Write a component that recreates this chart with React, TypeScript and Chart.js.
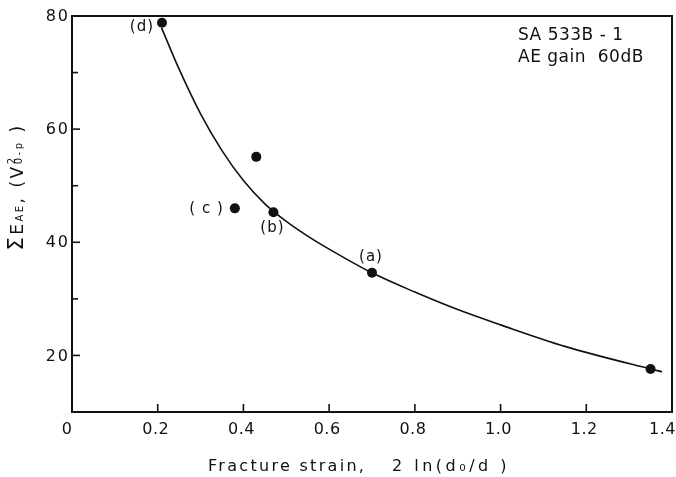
import React, { useEffect, useRef } from 'react';
import { Chart, registerables } from 'chart.js';

Chart.register(...registerables);

// ---- data ----
const pointX = [0.21, 0.43, 0.38, 0.47, 0.7, 1.35];
const pointY = [78.8, 55.1, 46.0, 45.3, 34.6, 17.6];
const pointLabels = ['(d)', '', '( c )', '(b)', '(a)', ''];

const curveX = [0.209, 0.25, 0.3, 0.35, 0.4, 0.45, 0.5, 0.55, 0.6, 0.7, 0.8, 0.9, 1.0, 1.15, 1.35, 1.377];
const curveY = [77.9, 70.6, 62.7, 56.2, 50.9, 46.8, 43.7, 41.1, 38.8, 34.6, 31.2, 28.1, 25.4, 21.6, 17.6, 17.1];

const xTickValues = [0, 0.2, 0.4, 0.6, 0.8, 1.0, 1.2, 1.4];
const xTickLabels = ['0', '0.2', '0.4', '0.6', '0.8', '1.0', '1.2', '1.4'];
const yTickValues = [20, 40, 60, 80];
const yTickLabels = ['20', '40', '60', '80'];
const yMinorTicks = [30, 50, 70];
const xRange = [0, 1.4];
const yRange = [10, 80];

const annotationLines = ['SA 533B - 1', 'AE gain  60dB'];
const xTitleParts = ['Fracture strain,', '2 ln(d\u2080/d )'];

const INK = '#111';
const FONT = '"DejaVu Sans", sans-serif';

const decorPlugin = {
  id: 'decor',
  afterDraw(chart: any) {
    const ctx: CanvasRenderingContext2D = chart.ctx;
    const W = chart.width;
    const { left, right, top, bottom } = chart.chartArea;
    const xs = chart.scales.x;
    const ys = chart.scales.y;
    ctx.save();
    ctx.strokeStyle = INK;
    ctx.fillStyle = INK;

    // frame
    ctx.lineWidth = 2;
    ctx.strokeRect(left, top, right - left, bottom - top);

    // inward tick marks
    ctx.lineWidth = 1.6;
    const seg = (x1: number, y1: number, x2: number, y2: number) => {
      ctx.beginPath();
      ctx.moveTo(x1, y1);
      ctx.lineTo(x2, y2);
      ctx.stroke();
    };
    xTickValues.forEach((v) => {
      if (v <= xRange[0] || v >= xRange[1]) return;
      const px = xs.getPixelForValue(v);
      seg(px, bottom, px, bottom - 8);
    });
    yTickValues.forEach((v) => {
      if (v <= yRange[0] || v >= yRange[1]) return;
      const py = ys.getPixelForValue(v);
      seg(left, py, left + 8, py);
    });
    yMinorTicks.forEach((v) => {
      const py = ys.getPixelForValue(v);
      seg(left, py, left + 6, py);
    });

    // tick labels
    ctx.font = `16px ${FONT}`;
    ctx.textBaseline = 'middle';
    (ctx as any).letterSpacing = '0.5px';
    xTickValues.forEach((v, i) => {
      const lab = xTickLabels[i];
      const w = ctx.measureText(lab).width;
      let cx = xs.getPixelForValue(v) - 2;
      if (i === 0) cx -= 3;
      cx = Math.min(cx, W - w / 2);
      ctx.textAlign = 'left';
      ctx.fillText(lab, cx - w / 2, bottom + 18);
    });
    (ctx as any).letterSpacing = '2px';
    yTickValues.forEach((v, i) => {
      const lab = yTickLabels[i];
      const w = ctx.measureText(lab).width - 2;
      ctx.textAlign = 'left';
      ctx.fillText(lab, left - 4 - w, ys.getPixelForValue(v) + 1);
    });

    // point labels
    (ctx as any).letterSpacing = '1px';
    ctx.font = `15px ${FONT}`;
    ctx.textBaseline = 'middle';
    pointLabels.forEach((lab, i) => {
      if (!lab) return;
      const px = xs.getPixelForValue(pointX[i]);
      const py = ys.getPixelForValue(pointY[i]);
      if (i === 0) {
        ctx.textAlign = 'right';
        ctx.fillText(lab, px - 8, py + 4);
      } else if (i === 2) {
        ctx.textAlign = 'right';
        ctx.fillText(lab, px - 11, py + 1);
      } else if (i === 3) {
        ctx.textAlign = 'center';
        ctx.fillText(lab, px - 1, py + 16);
      } else if (i === 4) {
        ctx.textAlign = 'center';
        ctx.fillText(lab, px - 1, py - 16);
      }
    });

    // annotation box text
    ctx.textAlign = 'left';
    ctx.textBaseline = 'alphabetic';
    (ctx as any).letterSpacing = '0.5px';
    ctx.font = `17px ${FONT}`;
    annotationLines.forEach((t, i) => {
      ctx.fillText(t, right - 154, top + 24 + i * 22);
    });

    // x title
    ctx.font = `16px ${FONT}`;
    ctx.textAlign = 'left';
    (ctx as any).letterSpacing = '2.3px';
    ctx.fillText(xTitleParts[0], left + 136, bottom + 59);
    (ctx as any).letterSpacing = '3.5px';
    ctx.fillText(xTitleParts[1], left + 320, bottom + 59);

    // y title (rotated, with sub/superscripts)
    type Piece = { t: string; size: number; v: number; stackSub?: string };
    const pieces: Piece[] = [
      { t: '\u03A3', size: 21, v: 0 },
      { t: 'E', size: 17, v: 0 },
      { t: 'AE', size: 10, v: 0 },
      { t: ', (', size: 17, v: 0 },
      { t: 'V', size: 17, v: 0 },
      { t: '2', size: 10, v: -8, stackSub: '0-p' },
      { t: ' )', size: 17, v: 0 },
    ];
    (ctx as any).letterSpacing = '2.5px';
    const widthOf = (p: Piece) => {
      ctx.font = `${p.size}px ${FONT}`;
      let w = ctx.measureText(p.t).width;
      if (p.stackSub) w = Math.max(w, ctx.measureText(p.stackSub).width);
      return w;
    };
    const total = pieces.reduce((s, p) => s + widthOf(p), 0);
    const centerY = top + 171;
    ctx.save();
    ctx.translate(left - 49, centerY + total / 2);
    ctx.rotate(-Math.PI / 2);
    let u = 0;
    pieces.forEach((p) => {
      ctx.font = `${p.size}px ${FONT}`;
      ctx.fillText(p.t, u, p.v);
      if (p.stackSub) ctx.fillText(p.stackSub, u, -1);
      u += widthOf(p);
    });
    ctx.restore();

    ctx.restore();
  },
};

export default function App() {
  const ref = useRef<HTMLCanvasElement>(null);
  useEffect(() => {
    document.body.style.margin = '0';
    const canvas = ref.current!;
    const chart = new Chart(canvas, {
      type: 'scatter',
      data: {
        datasets: [
          {
            label: 'points',
            data: pointX.map((x, i) => ({ x, y: pointY[i] })),
            showLine: false,
            pointRadius: 5,
            pointBackgroundColor: INK,
            pointBorderColor: INK,
            pointBorderWidth: 0,
          },
          {
            label: 'curve',
            data: curveX.map((x, i) => ({ x, y: curveY[i] })),
            showLine: true,
            pointRadius: 0,
            borderColor: INK,
            borderWidth: 1.6,
            cubicInterpolationMode: 'monotone',
            fill: false,
          } as any,
        ],
      },
      options: {
        animation: false,
        responsive: false,
        devicePixelRatio: 1,
        layout: { autoPadding: false, padding: { top: 16, right: 4, left: 0, bottom: 0 } } as any,
        plugins: {
          legend: { display: false },
          tooltip: { enabled: false },
        },
        scales: {
          x: {
            type: 'linear',
            min: xRange[0],
            max: xRange[1],
            grid: { display: false, drawTicks: false },
            border: { display: false },
            afterBuildTicks: (scale: any) => {
              scale.ticks = xTickValues.map((value) => ({ value }));
            },
            afterFit: (scale: any) => {
              scale.height = 65;
              scale.paddingLeft = 0;
              scale.paddingRight = 0;
            },
            ticks: { display: false },
          },
          y: {
            type: 'linear',
            min: yRange[0],
            max: yRange[1],
            grid: { display: false, drawTicks: false },
            border: { display: false },
            afterBuildTicks: (scale: any) => {
              scale.ticks = yTickValues.map((value) => ({ value }));
            },
            afterFit: (scale: any) => {
              scale.width = 72;
              scale.paddingTop = 0;
              scale.paddingBottom = 0;
            },
            ticks: { display: false },
          },
        },
      },
      plugins: [decorPlugin],
    });
    return () => chart.destroy();
  }, []);
  return (
    <div style={{ width: 676, height: 477, background: '#fff' }}>
      <canvas ref={ref} width={676} height={477} />
    </div>
  );
}
